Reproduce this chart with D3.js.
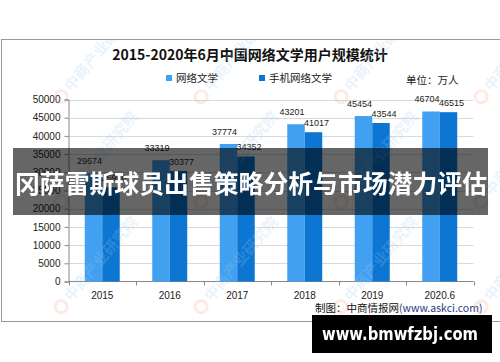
<!DOCTYPE html>
<html>
<head>
<meta charset="utf-8">
<script src="https://cdn.jsdelivr.net/npm/d3@7"></script>
<style>
  body { margin: 0; background: #fff; }
  svg { display: block; font-family: 'Liberation Sans', Arial, 'Noto Sans CJK SC', sans-serif; }
</style>
</head>
<body>
<div id="chart"></div>
<script>
// data
const years = ['2015', '2016', '2017', '2018', '2019', '2020.6'];
const seriesNames = ['网络文学', '手机网络文学'];
const webLit = [29674, 33319, 37774, 43201, 45454, 46704];
const mobileLit = [25908, 30377, 34352, 41017, 43544, 46515];
const yTicks = [0, 5000, 10000, 15000, 20000, 25000, 30000, 35000, 40000, 45000, 50000];

const colors = d3.scaleOrdinal().domain(seriesNames).range(['#42a0f0', '#0c76d2']);

const width = 500, height = 362;
const svg = d3.select('#chart').append('svg')
    .attr('width', width)
    .attr('height', height);

svg.append('rect').attr('width', width).attr('height', height).attr('fill', '#fff');

// chart frame (runs off the right edge)
svg.append('rect')
    .attr('x', 1.5).attr('y', 39.5)
    .attr('width', 530).attr('height', 282)
    .attr('fill', 'none')
    .attr('stroke', '#999');

svg.append('clipPath').attr('id', 'frame')
    .append('rect').attr('x', 2).attr('y', 40).attr('width', 498).attr('height', 281);

let x = d3.scaleBand().domain(years).range([68.5, 473.5]);
let xSub = d3.scaleBand().domain(seriesNames).range([0, x.bandwidth()]).paddingOuter(0.93);
let y = d3.scaleLinear().domain([0, 50000]).range([281.5, 99.5]);

// grid lines
svg.append('g')
    .selectAll('line')
    .data(yTicks.filter((d) => d > 0))
    .join('line')
    .attr('x1', 68.5).attr('x2', 473.5)
    .attr('y1', (d) => Math.round(y(d)) + 0.5)
    .attr('y2', (d) => Math.round(y(d)) + 0.5)
    .attr('stroke', '#d9d9d9');

// y axis
let yAxis = svg.append('g')
    .attr('transform', 'translate(68.5,0)')
    .call(d3.axisLeft(y).tickValues(yTicks).tickSize(4).tickPadding(4).tickFormat((d) => d));
yAxis.select('.domain').attr('stroke', '#888');
yAxis.selectAll('.tick line').attr('stroke', '#888');
yAxis.selectAll('text').attr('font-size', 10).attr('fill', '#222');

// x axis, ticks between categories like excel
let xAxis = svg.append('g').attr('transform', 'translate(0,281.5)');
xAxis.append('line')
    .attr('x1', 68.5).attr('x2', 473.5)
    .attr('stroke', '#888');
xAxis.selectAll('line.tk')
    .data(years.concat(['end']))
    .join('line')
    .attr('class', 'tk')
    .attr('x1', (d, i) => Math.round(68.5 + i * x.step()) + 0.5)
    .attr('x2', (d, i) => Math.round(68.5 + i * x.step()) + 0.5)
    .attr('y1', 0).attr('y2', 4)
    .attr('stroke', '#888');
xAxis.selectAll('text')
    .data(years)
    .join('text')
    .attr('x', (d) => x(d) + x.bandwidth() / 2)
    .attr('y', 17)
    .attr('text-anchor', 'middle')
    .attr('font-size', 10)
    .attr('fill', '#222')
    .text((d) => d);

// bars
let rows = years.map((year, i) => ({ year, values: [webLit[i], mobileLit[i]] }));

let groups = svg.append('g')
    .selectAll('g')
    .data(rows)
    .join('g')
    .attr('transform', (d) => `translate(${x(d.year)},0)`);

groups.selectAll('rect')
    .data((d) => d.values.map((v, k) => ({ name: seriesNames[k], value: v, k })))
    .join('rect')
    .attr('x', (d) => xSub(d.name))
    .attr('width', xSub.bandwidth())
    .attr('y', (d) => y(d.value))
    .attr('height', (d) => y(0) - y(d.value))
    .attr('fill', (d) => colors(d.name));

// labels sit a bit staggered, the first series higher and to the left
groups.selectAll('text')
    .data((d) => d.values.map((v, k) => ({ name: seriesNames[k], value: v, k })))
    .join('text')
    .attr('x', (d) => xSub(d.name) + xSub.bandwidth() / 2 + (d.k === 0 ? -4 : 3))
    .attr('y', (d) => y(d.value) - (d.k === 0 ? 9 : 6))
    .attr('text-anchor', 'middle')
    .attr('font-size', 9)
    .attr('fill', '#222')
    .text((d) => d.value);

// title + legend + unit
svg.append('text')
    .attr('x', 250).attr('y', 60)
    .attr('text-anchor', 'middle')
    .attr('font-family', "'Noto Sans CJK SC', sans-serif")
    .attr('font-weight', 'bold')
    .attr('font-size', 14)
    .attr('fill', '#111')
    .text('2015-2020年6月中国网络文学用户规模统计');

let legend = svg.append('g')
    .attr('font-family', "'Noto Sans CJK SC', sans-serif")
    .attr('font-size', 10.5);
let legendX = [166, 259];
seriesNames.forEach((name, i) => {
    legend.append('rect')
        .attr('x', legendX[i]).attr('y', 75)
        .attr('width', 6).attr('height', 6)
        .attr('fill', colors(name));
    legend.append('text')
        .attr('x', legendX[i] + 10).attr('y', 82)
        .attr('fill', '#222')
        .text(name);
});
legend.append('text')
    .attr('x', 406).attr('y', 84)
    .attr('fill', '#222')
    .text('单位：万人');

// source line
let source = svg.append('text')
    .attr('x', 315).attr('y', 312)
    .attr('font-family', "'Noto Sans CJK SC', sans-serif")
    .attr('font-size', 10.5);
source.append('tspan').attr('fill', '#111').text('制图：中商情报网');
source.append('tspan').attr('fill', '#1f3a80').text('(www.askci.com)');

// faint watermarks, clipped to the frame
let marks = [];
[-75, 65, 205, 345, 485].forEach((mx) => {
    [100, 205, 310].forEach((my) => marks.push([mx, my]));
});
let wm = svg.append('g').attr('clip-path', 'url(#frame)').attr('opacity', 0.22);
marks.forEach(([mx, my]) => {
    let g = wm.append('g').attr('transform', `translate(${mx},${my}) rotate(-50)`);
    g.append('circle').attr('cx', 0).attr('cy', -5).attr('r', 6)
        .attr('fill', 'none').attr('stroke', '#f3a080').attr('stroke-width', 3);
    g.append('text')
        .attr('x', 10).attr('y', 0)
        .attr('font-family', "'Noto Sans CJK SC', sans-serif")
        .attr('font-weight', 'bold')
        .attr('font-size', 15)
        .attr('fill', '#9cc8ee')
        .text('中商产业研究院');
});

// dark banner over the chart
svg.append('rect')
    .attr('x', 13).attr('y', 148)
    .attr('width', 475).attr('height', 67)
    .attr('fill', 'rgba(0,0,0,0.6)');
svg.append('text')
    .attr('x', 15).attr('y', 193)
    .attr('textLength', 472)
    .attr('lengthAdjust', 'spacingAndGlyphs')
    .attr('font-family', "'Noto Sans CJK SC', sans-serif")
    .attr('font-weight', 'bold')
    .attr('font-size', 25)
    .attr('fill', '#fff')
    .text('冈萨雷斯球员出售策略分析与市场潜力评估');

// site box bottom right
svg.append('rect')
    .attr('x', 312).attr('y', 315)
    .attr('width', 180).attr('height', 38)
    .attr('fill', '#000');
svg.append('text')
    .attr('x', 322).attr('y', 340)
    .attr('textLength', 156)
    .attr('lengthAdjust', 'spacingAndGlyphs')
    .attr('font-family', "'DejaVu Sans', sans-serif")
    .attr('font-weight', 'bold')
    .attr('font-size', 18)
    .attr('fill', '#fff')
    .text('www.bmwfzbj.com');
</script>
</body>
</html>
